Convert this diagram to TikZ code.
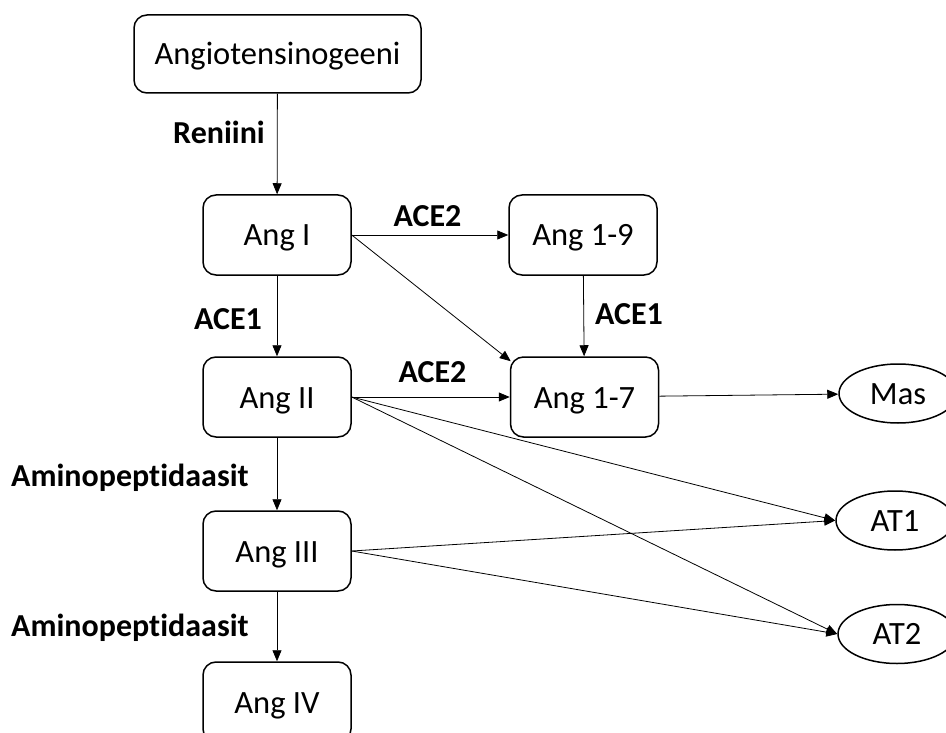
\documentclass[tikz,border=0pt]{standalone}
\usepackage{fontspec}
\setmainfont[Ligatures=NoCommon]{Carlito}
\usetikzlibrary{shapes.geometric,arrows.meta}
\begin{document}
\begin{tikzpicture}[x=1pt,y=-1pt,
  box/.style={draw, line width=1.5pt, rounded corners=13pt, minimum width=148pt, minimum height=80pt, inner sep=0pt, font=\fontsize{32.5}{38}\selectfont, text height=22pt, text depth=0pt},
  ell/.style={draw, ellipse, line width=1.5pt, minimum width=118pt, minimum height=59pt, inner sep=0pt, font=\fontsize{32.5}{38}\selectfont, text height=21pt, text depth=0pt},
  lbl/.style={font=\fontsize{32}{38}\selectfont\bfseries, text height=20.5pt, text depth=0pt, inner sep=0pt},
  conn/.style={draw, line width=0.8pt, -{Triangle[length=11pt,width=9pt]}}]
\useasboundingbox (0,0) rectangle (946,733);
\clip (0,0) rectangle (946,733);
\node[box, minimum width=287pt, minimum height=78pt] (ago) at (277.5,54) {Angiotensinogeeni};
\node[box] (a1) at (277,235) {Ang I};
\node[box] (a19) at (583,235) {Ang 1-9};
\node[box] (a2) at (277,397) {Ang II};
\node[box] (a17) at (584.5,397) {Ang 1-7};
\node[box] (a3) at (277,551) {Ang III};
\node[box] (a4) at (277,702) {Ang IV};
\node[ell] (mas) at (898,393.5) {Mas};
\node[ell] (at1) at (895,520.5) {AT1};
\node[ell] (at2) at (897,634) {AT2};
\node[lbl] (lren) at (219,133) {Reniini};
\node[lbl] (lace2a) at (427.5,216) {ACE2};
\node[lbl] (lace1a) at (228,319) {ACE1};
\node[lbl] (lace1b) at (629,314) {ACE1};
\node[lbl] (lace2b) at (432.5,372) {ACE2};
\node[lbl, anchor=west] (lamp1) at (11,476) {Aminopeptidaasit};
\node[lbl, anchor=west] (lamp2) at (11,626) {Aminopeptidaasit};
\coordinate (a17nw) at ([shift={(1,5)}]a17.north west);
\path[conn] (ago) -- (a1);
\path[conn] (a1) -- (a2);
\path[conn] (a2) -- (a3);
\path[conn] (a3) -- (a4);
\path[conn] (a1.east) -- (a19.west);
\path[conn] (a1.east) -- (a17nw);
\path[conn] (a19) -- (a17);
\path[conn] (a2.east) -- (a17.west);
\path[conn] (a17) -- (mas);
\path[conn] (a2.east) -- (at1.west);
\path[conn] (a2.east) -- (at2.west);
\path[conn] (a3.east) -- (at1.west);
\path[conn] (a3.east) -- (at2.west);
\end{tikzpicture}
\end{document}
